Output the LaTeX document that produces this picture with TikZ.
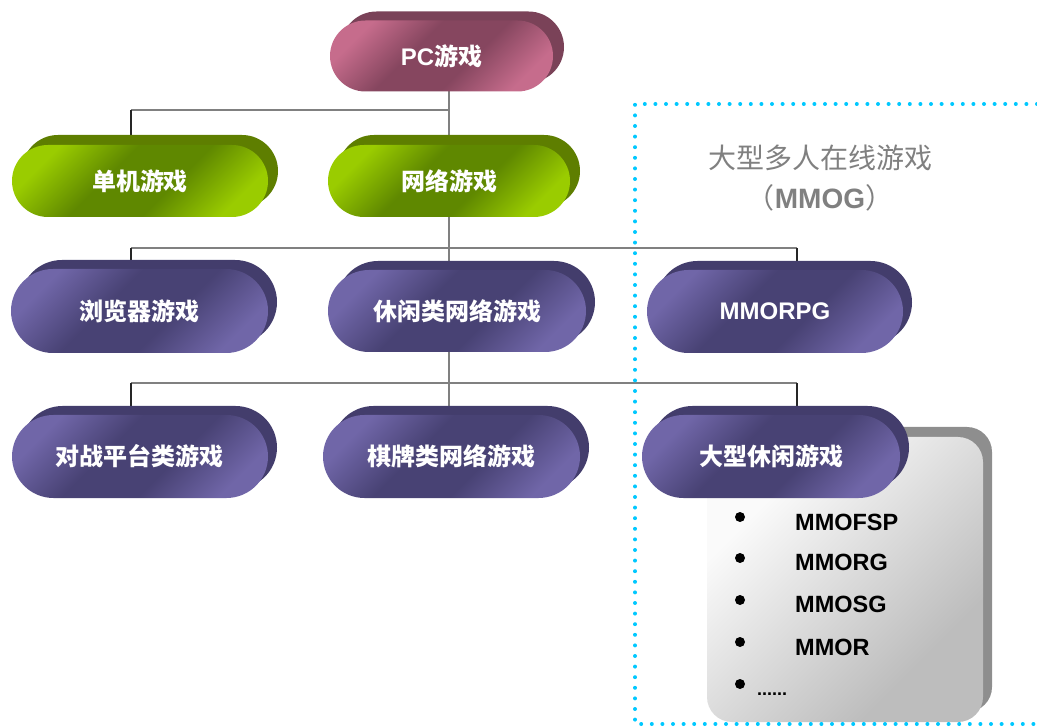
\documentclass[tikz,border=0pt]{standalone}
\usepackage{fontspec}
\setmainfont{Liberation Sans}
\newfontfamily\cjk{Noto Sans CJK SC}
\usetikzlibrary{shapes.misc,shadows,backgrounds}
\definecolor{pinkL}{HTML}{C66C8C}
\definecolor{pinkD}{HTML}{86465F}
\definecolor{pinkB}{HTML}{7A4258}
\definecolor{greenL}{HTML}{9ACC00}
\definecolor{greenD}{HTML}{5F8800}
\definecolor{greenB}{HTML}{5E7E00}
\definecolor{purpL}{HTML}{7066A8}
\definecolor{purpD}{HTML}{484274}
\definecolor{purpB}{HTML}{433D6C}
\definecolor{boxL}{HTML}{FAFAFA}
\definecolor{boxD}{HTML}{BDBDBD}
\definecolor{boxB}{HTML}{8E8E8E}
\definecolor{dotcyan}{HTML}{00C8FF}
\definecolor{titlegray}{HTML}{808080}
\definecolor{linegray}{HTML}{808080}
\pgfdeclarehorizontalshading{pinksh}{100bp}{color(0bp)=(pinkL); color(25bp)=(pinkL); color(42bp)=(pinkD); color(58bp)=(pinkD); color(75bp)=(pinkL); color(100bp)=(pinkL)}
\pgfdeclarehorizontalshading{greensh}{100bp}{color(0bp)=(greenL); color(25bp)=(greenL); color(42bp)=(greenD); color(58bp)=(greenD); color(75bp)=(greenL); color(100bp)=(greenL)}
\pgfdeclarehorizontalshading{purpsh}{100bp}{color(0bp)=(purpL); color(25bp)=(purpL); color(42bp)=(purpD); color(58bp)=(purpD); color(75bp)=(purpL); color(100bp)=(purpL)}
\pgfdeclarehorizontalshading{boxsh}{100bp}{color(0bp)=(boxL); color(30bp)=(boxL); color(70bp)=(boxD); color(100bp)=(boxD)}
\begin{document}
\begin{tikzpicture}[x=1pt,y=-1pt,
  pill/.style={rounded rectangle, inner sep=0pt, text=white,
    font=\fontsize{24}{28}\selectfont\bfseries, shade, shading angle=-45},
  pinkpill/.style={pill, shading=pinksh, general shadow={shadow xshift=11pt, shadow yshift=9pt, fill=pinkB}},
  greenpill/.style={pill, shading=greensh, general shadow={shadow xshift=10pt, shadow yshift=10pt, fill=greenB}},
  purppill/.style={pill, shading=purpsh, general shadow={shadow xshift=9pt, shadow yshift=9pt, fill=purpB}},
  trunk/.style={draw=linegray, line width=1.6pt},
  drop/.style={draw=black!85, line width=1.6pt},
  boxnode/.style={rectangle, rounded corners=25pt, minimum width=276pt, minimum height=285pt,
    shade, shading=boxsh, shading angle=-45,
    general shadow={shadow xshift=9pt, shadow yshift=10pt, fill=boxB}},
  titletext/.style={text=titlegray, inner sep=0pt},
  item/.style={anchor=west, inner sep=0pt, font=\fontsize{23.5}{27}\selectfont\bfseries},
  bullet/.style={circle, fill=black, inner sep=0pt, minimum size=10pt}
]
\useasboundingbox (0,0) rectangle (1037,727);

% grey list box (behind the pill)
\node[boxnode] (box) at (845,579.5) {};

% nodes
\node[pinkpill, minimum width=223pt, minimum height=71pt] (pc) at (441.5,56) {\raisebox{-3pt}{PC{\cjk 游戏}}};
\node[greenpill, minimum width=256pt, minimum height=72pt] (single) at (140,181) {\cjk 单机游戏};
\node[greenpill, minimum width=242pt, minimum height=72pt] (net) at (449,181) {\cjk 网络游戏};
\node[purppill, minimum width=257pt, minimum height=84pt] (browser) at (139.5,311) {\cjk 浏览器游戏};
\node[purppill, minimum width=258pt, minimum height=82pt] (casual) at (457,311) {\cjk 休闲类网络游戏};
\node[purppill, minimum width=256pt, minimum height=83pt] (mmorpg) at (775,311.5) {MMORPG};
\node[purppill, minimum width=256pt, minimum height=83pt] (battle) at (140,456.5) {\cjk 对战平台类游戏};
\node[purppill, minimum width=257pt, minimum height=83pt] (chess) at (451.5,456.5) {\cjk 棋牌类网络游戏};
\node[purppill, minimum width=258pt, minimum height=83pt] (bigcasual) at (771,456.5) {\cjk 大型休闲游戏};

% junctions
\coordinate (j1) at (449,110);
\coordinate (j2) at (449,248);
\coordinate (j3) at (449,383);
\coordinate (xl) at (131,0);
\coordinate (xr) at (797,0);

\begin{scope}[on background layer]
  \draw[trunk] (pc.center -| j1) -- (net.center -| j1);
  \draw[trunk] (j1 -| xl) -- (j1);
  \draw[drop] (j1 -| xl) -- (single.north -| xl);
  \draw[trunk] (net.center -| j2) -- (casual.center -| j2);
  \draw[trunk] (j2 -| xl) -- (j2 -| xr);
  \draw[drop] (j2 -| xl) -- (browser.north -| xl);
  \draw[drop] (j2 -| xr) -- (mmorpg.north -| xr);
  \draw[trunk] (casual.center -| j3) -- (chess.center -| j3);
  \draw[trunk] (j3 -| xl) -- (j3 -| xr);
  \draw[drop] (j3 -| xl) -- (battle.north -| xl);
  \draw[drop] (j3 -| xr) -- (bigcasual.north -| xr);
\end{scope}

% MMOG title
\node[titletext, font=\fontsize{28}{32}\selectfont\cjk] (t1) at (820,158) {大型多人在线游戏};
\node[titletext, font=\fontsize{28}{32}\selectfont] (t2) at (820,198) {{\cjk （}\textbf{MMOG}{\cjk ）}};

% list
\node[bullet] (b1) at (740,517) {};
\node[bullet] (b2) at (740,558) {};
\node[bullet] (b3) at (740,600) {};
\node[bullet] (b4) at (740,642) {};
\node[bullet] (b5) at (740,684) {};
\node[item] (i1) at (795,522) {MMOFSP};
\node[item] (i2) at (795,562) {MMORG};
\node[item] (i3) at (795,604) {MMOSG};
\node[item] (i4) at (795,647) {MMOR};
\node[item, font=\fontsize{18}{20}\selectfont\bfseries, anchor=base west] (i5) at (757,695) {......};

% dotted MMOG frame
\draw[dotcyan, line width=4pt, line cap=round, dash pattern=on 0pt off 10.6pt]
  (1037,104) -- (635,104) -- (635,724) -- (1037,724);
\end{tikzpicture}
\end{document}
